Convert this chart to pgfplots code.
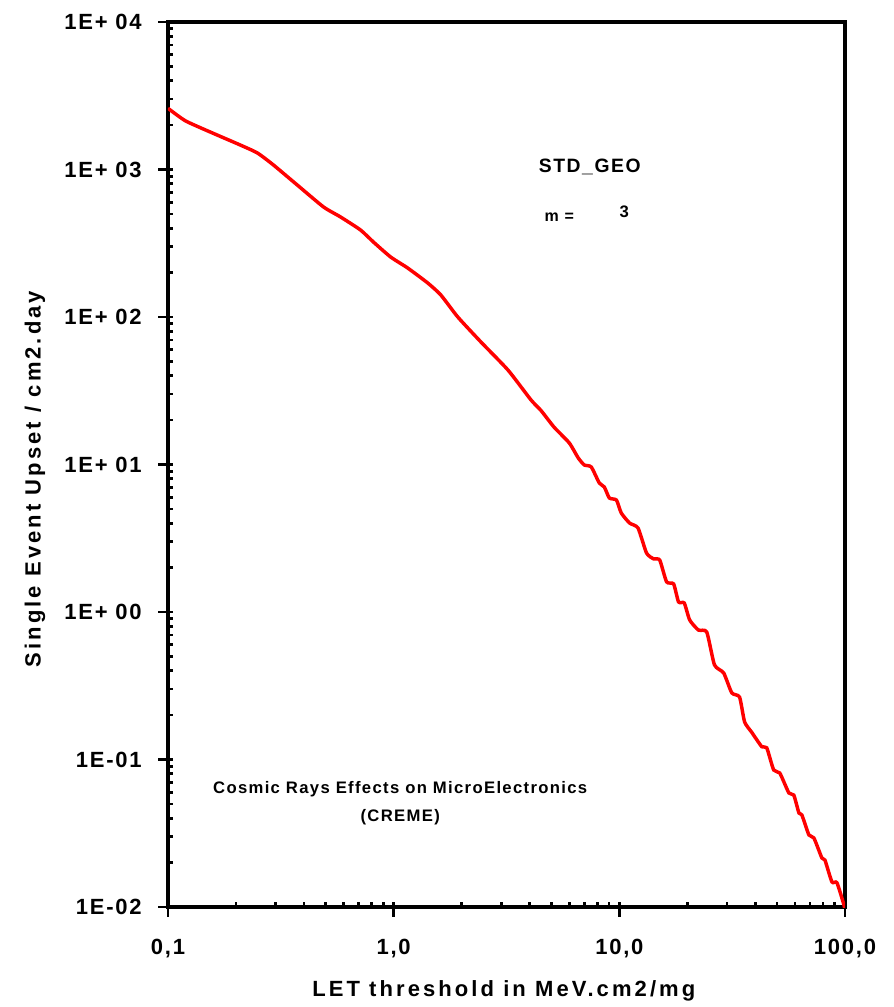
\documentclass[border=0pt]{standalone}
\usepackage{pgfplots}
\pgfplotsset{compat=1.18}
\usepackage{fontspec}
\setmainfont{Liberation Sans}
\newfontfamily\tickf[LetterSpace=8]{Liberation Sans}
\newfontfamily\labf[LetterSpace=14]{Liberation Sans}
\newfontfamily\notef[LetterSpace=8]{Liberation Sans}

\pgfplotstableread{
x y
0.1 2600
0.12 2130
0.165 1714
0.209 1466
0.249 1294
0.293 1074
0.374 785
0.489 557
0.581 477
0.713 389
0.814 322
0.970 255
1.153 215
1.416 170
1.618 141
1.924 100
2.436 67.7
3.21 43.7
4.06 27.4
4.5 23.2
5.14 17.9
6.0 14.0
6.57 11.1
6.99 9.93
7.51 9.62
8.15 7.5
8.58 7.04
9.03 5.93
9.71 5.74
10.2 4.69
11.1 4.01
12.1 3.71
13.2 2.51
14.2 2.29
15.1 2.25
16.2 1.60
17.4 1.55
18.3 1.17
19.4 1.15
20.5 0.883
22.4 0.755
24.4 0.731
26.4 0.438
29.0 0.386
31.5 0.283
34.1 0.265
35.9 0.180
38.6 0.153
42.8 0.122
45.0 0.120
48.3 0.0849
51.4 0.0810
56.4 0.0593
59.3 0.0574
62.5 0.0434
64.4 0.0421
69.2 0.0308
72.8 0.0294
79.0 0.0215
81.5 0.0208
87.5 0.0148
92.1 0.0146
99.0 0.0103
100 0.0095
}\seu

\begin{document}
\begin{tikzpicture}
\begin{axis}[
  scale only axis, width=507.75pt, height=663.75pt,
  xmode=log, ymode=log,
  xmin=0.1, xmax=100, ymin=0.01, ymax=10000,
  axis line style={line width=3pt},
  xtick={0.1,1,10,100},
  xticklabels={{0,1},{1,0},{10,0},{100,0}},
  ytick={0.01,0.1,1,10,100,1000,10000},
  yticklabels={1E-02,1E-01,1E+ 00,1E+ 01,1E+ 02,1E+ 03,1E+ 04},
  minor xtick={0.2,0.3,0.4,0.5,0.6,0.7,0.8,0.9,2,3,4,5,6,7,8,9,20,30,40,50,60,70,80,90},
  minor ytick={0.02,0.03,0.04,0.05,0.06,0.07,0.08,0.09,
    0.2,0.3,0.4,0.5,0.6,0.7,0.8,0.9,2,3,4,5,6,7,8,9,
    20,30,40,50,60,70,80,90,200,300,400,500,600,700,800,900,
    2000,3000,4000,5000,6000,7000,8000,9000},
  tick align=inside,
  major tick length=3.75pt, minor tick length=3.75pt,
  tick style={black, line width=2pt},
  xtick pos=left, ytick pos=left,
  extra x ticks={0.1,1,10,100}, extra x tick labels={},
  extra y ticks={0.01,0.1,1,10,100,1000,10000}, extra y tick labels={},
  extra tick style={tick align=outside, major tick length=7.5pt},
  xticklabel style={anchor=north, inner sep=0pt, yshift=-24pt,
    font=\fontsize{16.5pt}{19pt}\tickf\bfseries},
  yticklabel style={anchor=east, inner sep=0pt, xshift=-19.5pt,
    font=\fontsize{16.5pt}{19pt}\tickf\bfseries},
  clip mode=individual,
]
\addplot[red, line width=2.6pt, smooth, tension=0.35] table[x=x, y=y] {\seu};

\node[anchor=base, font=\fontsize{16.5pt}{19pt}\labf\bfseries]
  at (rel axis cs:0.496,-0.1006) {LET threshold in MeV.cm2/mg};
\node[anchor=base, rotate=90, font=\fontsize{16.5pt}{19pt}\labf\bfseries]
  at (rel axis cs:-0.188,0.4836) {Single Event Upset / cm2.day};

\node[font=\fontsize{14.5pt}{17pt}\notef\bfseries] at (rel axis cs:0.623,0.836) {STD\_GEO};
\node[font=\fontsize{12pt}{14pt}\notef\bfseries] at (rel axis cs:0.578,0.779) {m =};
\node[font=\fontsize{12.5pt}{14pt}\notef\bfseries] at (rel axis cs:0.674,0.785) {3};
\node[font=\fontsize{12.5pt}{15pt}\notef\bfseries] at (rel axis cs:0.343,0.133) {Cosmic Rays Effects on MicroElectronics};
\node[font=\fontsize{12.5pt}{15pt}\notef\bfseries] at (rel axis cs:0.343,0.102) {(CREME)};
\end{axis}
\pgfresetboundingbox
\path[use as bounding box] ([shift={(-126pt,-75pt)}]current axis.south west)
  rectangle ([shift={(36pt,16.5pt)}]current axis.north east);
\end{tikzpicture}
\end{document}
